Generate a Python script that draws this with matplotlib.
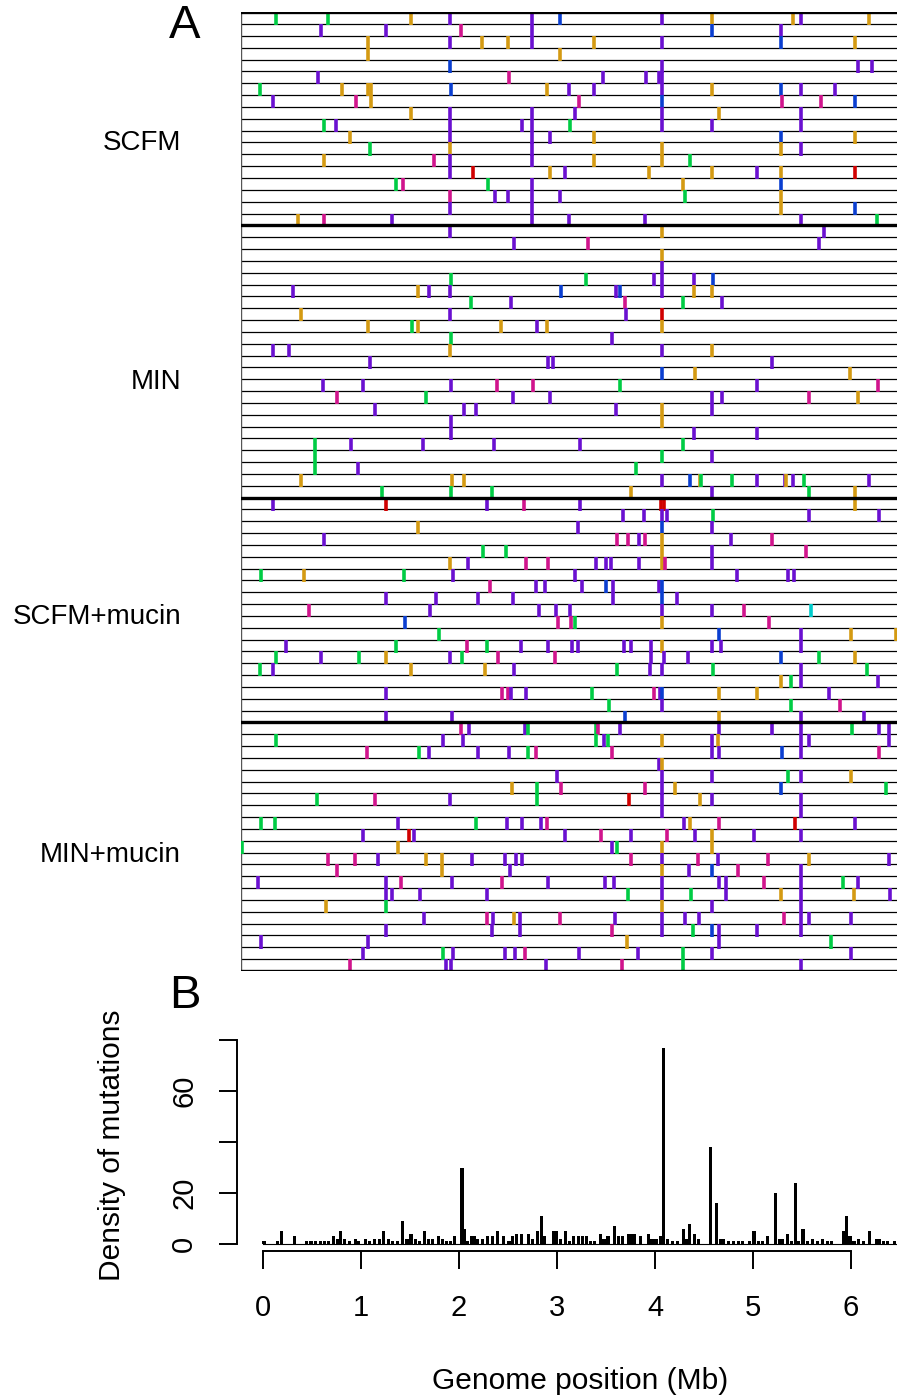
import matplotlib
matplotlib.use("Agg")
import matplotlib.pyplot as plt

plt.rcParams['font.family'] = ['Liberation Sans', 'DejaVu Sans']

# ---------------- data: panel A (mutations per strain; code+position in Mb) ----------------
group_names = ["SCFM", "MIN", "SCFM+mucin", "MIN+mucin"]

scfm_rows = [
    "G0.33 G0.83 O1.64 P2.02 P2.81 B3.09 P4.08 O4.56 O5.35 P5.43 O6.09",
    "P0.76 P1.40 M2.12 P2.81 B4.56 P5.23",
    "O1.22 P2.02 O2.33 O2.58 P2.81 O3.42 P4.08 B5.23 O5.95",
    "O1.22 O3.09",
    "B2.02 P4.08 P5.98 P6.12",
    "P0.74 M2.59 P3.50 P3.92 P4.05 P4.08",
    "G0.17 O0.97 O1.22 O1.25 B2.03 O2.96 P3.17 P3.42 P4.08 O4.56 B5.23 P5.43 P5.76",
    "P0.30 M1.10 O1.25 M3.27 B4.08 M5.24 M5.62 B5.95",
    "O1.64 P2.02 P2.81 P3.23 P4.08 O4.63 P5.43",
    "G0.79 P0.91 P2.02 P2.72 P2.81 G3.18 P4.08 P4.56 P5.43",
    "O1.05 P2.02 P2.81 P2.99 O3.42 B5.23 O5.95",
    "G1.24 O2.02 P2.81 O4.08 O5.23 P5.43",
    "O0.79 M1.86 P2.02 P2.81 O3.42 O4.08 G4.35",
    "P2.02 R2.24 O2.99 P3.14 O3.95 O4.56 P5.00 O5.23 R5.95",
    "G1.49 M1.56 G2.39 P2.81 O4.28 B5.23",
    "M2.02 P2.46 P2.58 P2.81 P3.09 G4.30 O5.23",
    "P2.02 P2.81 O5.23 B5.95",
    "O0.54 M0.79 P1.45 P2.81 P3.17 P3.91 P5.43 G6.17",
]

min_rows = [
    "P2.02 O4.08 P5.65",
    "P2.64 M3.36 P5.60",
    "O4.08",
    "P4.08",
    "G2.03 G3.34 P4.00 P4.08 P4.39 B4.57",
    "P0.49 O1.71 P1.81 P2.02 B3.10 P3.63 B3.67 P4.08 O4.39 O4.56",
    "G2.22 P2.61 M3.72 G4.28 P4.66",
    "O0.57 P2.02 P3.73 R4.08",
    "O1.22 G1.65 O1.71 O2.51 P2.86 O2.96 O4.08",
    "G2.03 P3.59",
    "P0.30 P0.45 O2.02 P4.08 O4.56",
    "P1.24 P2.97 P3.02 P5.15",
    "B4.08 O4.40 O5.90",
    "P0.78 P1.17 P2.03 M2.47 M2.82 G3.67 P5.00 M6.18",
    "M0.92 G1.78 P2.63 P2.99 P4.56 P4.66 M5.51 O5.98",
    "P1.29 P2.15 P2.27 P3.63 O4.08 P4.56",
    "P2.03 O4.08",
    "P2.03 P4.39 P5.00",
    "G0.71 P1.06 P1.76 P2.45 P3.28 G4.28",
    "G0.71 G4.08 P4.56",
    "G0.71 P1.12 G3.83",
    "O0.57 O2.04 O2.15 P4.08 B4.35 O4.45 G4.46 G4.76 P5.00 P5.27 O5.28 P5.35 G5.46 P6.09",
    "G1.36 G2.03 G2.43 O3.78 P4.56 G5.51 O5.95",
]

scfm_mucin_rows = [
    "P0.30 R1.40 P2.38 M2.74 P3.28 R4.07 R4.10 O5.95",
    "P3.70 P3.90 P4.08 P4.13 G4.57 P5.51 P6.19",
    "O1.71 P3.26 B4.08 P4.56",
    "P0.79 M3.64 M3.75 P3.85 M3.91 O4.08 P4.75 M5.15",
    "G2.34 G2.56 O4.08 P4.56 M5.48",
    "O2.02 P2.19 M2.76 M2.97 P3.44 P3.53 P3.58 P3.85 O4.08 M4.11 P4.56",
    "G0.18 O0.60 G1.57 P2.05 P3.23 P4.81 P5.30 P5.36",
    "M2.41 P2.85 P2.94 P3.30 B3.53 P3.60 P4.05 B4.08",
    "P1.40 P1.88 P2.29 P2.63 P3.60 B4.08 P4.22",
    "M0.65 P1.82 P2.88 P3.05 P3.18 P4.08 P4.56 M4.87 C5.53",
    "B1.58 M3.07 M3.19 G3.23 O4.08 M5.12",
    "G1.91 B4.63 P5.43 O5.91 O6.35",
    "P0.42 G1.49 M2.18 G2.38 P2.71 P2.97 P3.20 P3.26 P3.71 P3.78 P3.97 O4.08 P4.56 P4.65 P5.43",
    "G0.33 P0.76 G1.13 O1.40 P2.02 G2.13 M2.48 M3.04 P3.97 P4.10 P4.33 B5.23 G5.60 O5.95",
    "G0.17 P0.30 O1.64 O2.36 P2.64 G3.64 P3.96 P4.08 G4.57 P5.43 G6.07",
    "O5.23 G5.33 P5.43 P6.18",
    "P1.40 M2.52 M2.58 P2.61 P2.76 G3.40 M4.00 P4.06 B4.08 O4.63 O5.00 P5.70",
    "G3.56 P4.08 G5.33 M5.81",
    "P1.40 P2.04 B3.72 O4.63 P5.43 P6.04",
]

min_mucin_rows = [
    "M2.12 P2.20 P2.75 G2.78 G3.44 M3.46 P3.67 P4.63 P5.15 P5.43 G5.92 P6.19 P6.28",
    "G0.33 P1.95 P2.14 G3.44 P3.51 G3.55 O4.08 P4.56 O4.62 P5.43 P5.51 P6.28",
    "M1.21 G1.72 P1.81 P2.29 P2.59 G2.78 M2.85 M3.59 P4.56 P4.63 B5.24 P5.43 M6.19",
    "P4.05 O4.08",
    "P3.06 P4.08 P4.56 G5.30 P5.43 O5.91",
    "O2.62 G2.86 M3.10 M3.91 P4.08 O4.20 B5.23 G6.25",
    "G0.73 M1.29 P2.02 G2.86 R3.76 P4.08 O4.45 P4.56 P5.43",
    "P4.08 P5.43",
    "G0.18 G0.32 P1.51 G2.27 P2.57 P2.72 P2.90 M2.96 P4.29 O4.35 M4.63 R5.37 P5.95",
    "P1.17 R1.62 P1.67 P3.14 M3.49 P3.78 M4.13 P4.40 O4.56 P4.97 P5.43",
    "G0.00 O1.51 P3.59 G3.64 O4.08 O4.56",
    "M0.83 M1.09 P1.32 O1.78 O1.94 P2.23 P2.55 P2.66 P2.72 M3.78 P4.08 M4.43 P4.62 M5.11 O5.51 P6.28",
    "M0.92 O1.94 P2.60 O4.08 P4.34 B4.56 M4.82 P5.43",
    "P0.15 P1.40 M1.54 P2.04 M2.52 P2.97 P3.52 P3.61 P4.08 P4.63 P4.70 M5.07 P5.43 G5.84 P5.98",
    "P1.40 P1.45 P1.73 P2.38 G3.75 P4.08 G4.36 P4.70 O5.23 P5.43 O5.94 P6.29",
    "O0.81 G1.40 O4.08 P4.56 P5.43",
    "P1.77 M2.38 P2.44 O2.64 P2.70 M3.09 P3.62 P4.08 P4.30 P4.44 M5.26 P5.43 P5.51 P5.91",
    "P1.40 P2.43 P2.70 M3.59 P4.08 G4.38 B4.56 P4.63 P5.00 P5.43",
    "P0.18 P1.22 O3.74 P4.63 G5.72",
    "P1.17 G1.95 P2.05 P2.55 P2.65 M2.75 P3.27 P3.84 G4.28 P4.56 P5.91",
    "M1.05 P1.98 P2.03 P2.95 M3.69 G4.28 P5.43",
]

mut_colors = {
    "P": "#6A10D0", "O": "#D49A12", "G": "#00CC44", "M": "#D0148C",
    "B": "#0A3ED0", "R": "#D00000", "C": "#00CCCC",
}

# ---------------- data: panel B (mutation density) ----------------
bar_pos = [0.01, 0.15, 0.19, 0.32, 0.44, 0.49, 0.54, 0.59, 0.63, 0.67, 0.72, 0.76, 0.79, 0.83,
           0.88, 0.94, 0.97, 1.05, 1.09, 1.14, 1.19, 1.23, 1.28, 1.32, 1.37, 1.42, 1.47, 1.51,
           1.56, 1.60, 1.65, 1.69, 1.73, 1.79, 1.83, 1.87, 1.91, 1.95, 2.03, 2.06, 2.09, 2.13,
           2.16, 2.19, 2.24, 2.29, 2.34, 2.39, 2.45, 2.51, 2.55, 2.59, 2.64, 2.71, 2.75, 2.80,
           2.84, 2.87, 2.96, 2.99, 3.04, 3.09, 3.13, 3.17, 3.22, 3.26, 3.30, 3.34, 3.38, 3.44,
           3.48, 3.52, 3.59, 3.63, 3.67, 3.73, 3.76, 3.79, 3.85, 3.93, 3.97, 4.01, 4.06, 4.09,
           4.13, 4.18, 4.23, 4.29, 4.32, 4.35, 4.40, 4.44, 4.57, 4.63, 4.67, 4.70, 4.75, 4.80,
           4.85, 4.89, 4.96, 5.01, 5.06, 5.10, 5.15, 5.23, 5.27, 5.30, 5.35, 5.39, 5.43, 5.46,
           5.51, 5.56, 5.61, 5.66, 5.71, 5.76, 5.80, 5.92, 5.95, 5.99, 6.03, 6.08, 6.13, 6.19,
           6.26, 6.29, 6.33, 6.37, 6.44]
bar_count = [1, 1, 5, 3, 1, 1, 1, 1, 1, 1, 3, 2, 5, 2,
             1, 2, 1, 2, 1, 2, 2, 5, 2, 1, 1, 9, 2, 4,
             2, 1, 5, 2, 2, 3, 2, 1, 1, 3, 30, 6, 1, 3,
             3, 2, 2, 3, 3, 5, 3, 1, 3, 4, 4, 4, 2, 5,
             11, 3, 5, 5, 2, 5, 1, 3, 3, 3, 3, 1, 1, 4,
             2, 3, 7, 3, 3, 4, 4, 4, 3, 4, 2, 2, 3, 77,
             2, 1, 1, 6, 2, 8, 4, 2, 38, 16, 2, 2, 1, 1,
             1, 1, 1, 5, 1, 1, 3, 20, 2, 2, 4, 1, 24, 1,
             6, 1, 2, 1, 2, 1, 1, 5, 11, 3, 1, 2, 1, 5,
             2, 2, 1, 1, 1]
y_ticks = [0, 20, 40, 60, 80]
y_ticklabels = ["0", "20", "", "60", ""]
x_ticks = [0, 1, 2, 3, 4, 5, 6]

# ---------------- figure ----------------
W, H = 897, 1397
fig = plt.figure(figsize=(W / 100, H / 100), dpi=100)

def fx(px):
    return px / W

def fy(py):
    return 1 - py / H

# ---- panel A ----
a_top, a_bot, a_left = 12.3, 971.0, 241.0
axA = fig.add_axes([fx(a_left), fy(a_bot), fx(W - a_left), (a_bot - a_top) / H])
groups = [scfm_rows, min_rows, scfm_mucin_rows, min_mucin_rows]
n_total = sum(len(g) for g in groups)
axA.set_xlim(-0.013, (W - 242.4) / 102.9)
axA.set_ylim(n_total, 0)
axA.axis("off")

row = 0
boundaries = [0]
xs, y0s, y1s, cols = [], [], [], []
for g in groups:
    for r in g:
        for tok in r.split():
            xs.append(float(tok[1:]))
            y0s.append(row + 0.0)
            y1s.append(row + 1.1)
            cols.append(mut_colors[tok[0]])
        row += 1
    boundaries.append(row)

for k in range(n_total + 1):
    thick = k in boundaries
    axA.axhline(k, color="black", lw=2.4 if thick else 0.9, zorder=1 if not thick else 3)
axA.axvline(-0.013, color="#555555", lw=1.0)
axA.vlines(xs, y0s, y1s, colors=cols, linewidth=2.6, zorder=2, capstyle="butt")

label_py = [143, 382, 617, 855]
for name, py in zip(group_names, label_py):
    fig.text(fx(181), fy(py), name, ha="right", va="center", fontsize=20)

fig.text(fx(185), fy(26), "A", ha="center", va="center", fontsize=34)
fig.text(fx(185), fy(996), "B", ha="center", va="center", fontsize=34)

# ---- panel B ----
b_left, b_top, b_bot = 237.0, 1037.0, 1251.0
axB = fig.add_axes([fx(b_left), fy(b_bot), fx(W - b_left), (b_bot - b_top) / H])
axB.set_xlim((b_left - 263) / 98.0, (W - 263) / 98.0)
axB.set_ylim(-(b_bot - 1244) / 2.55, (1244 - b_top) / 2.55)
axB.bar(bar_pos, bar_count, width=0.032, color="black", linewidth=0)
axB.plot([0, 6.5], [0, 0], color="black", lw=0.8)
for s in ["top", "right"]:
    axB.spines[s].set_visible(False)
axB.spines["left"].set_bounds(0, 80)
axB.spines["bottom"].set_bounds(0, 6)
axB.spines["left"].set_linewidth(1.4)
axB.spines["bottom"].set_linewidth(1.4)
axB.set_yticks(y_ticks)
axB.set_yticklabels(y_ticklabels, rotation=90, va="center")
axB.set_xticks(x_ticks)
axB.set_xticklabels([str(t) for t in x_ticks])
axB.tick_params(axis="y", length=13, width=1.4, pad=15, labelsize=21)
axB.tick_params(axis="x", length=13, width=1.4, pad=18, labelsize=21)

fig.text(fx(580), fy(1381), "Genome position (Mb)", ha="center", va="center", fontsize=21.5)
fig.text(fx(112), fy(1145), "Density of mutations", ha="center", va="center",
         rotation=90, fontsize=21.5)

fig.savefig("out.png", dpi=100)
